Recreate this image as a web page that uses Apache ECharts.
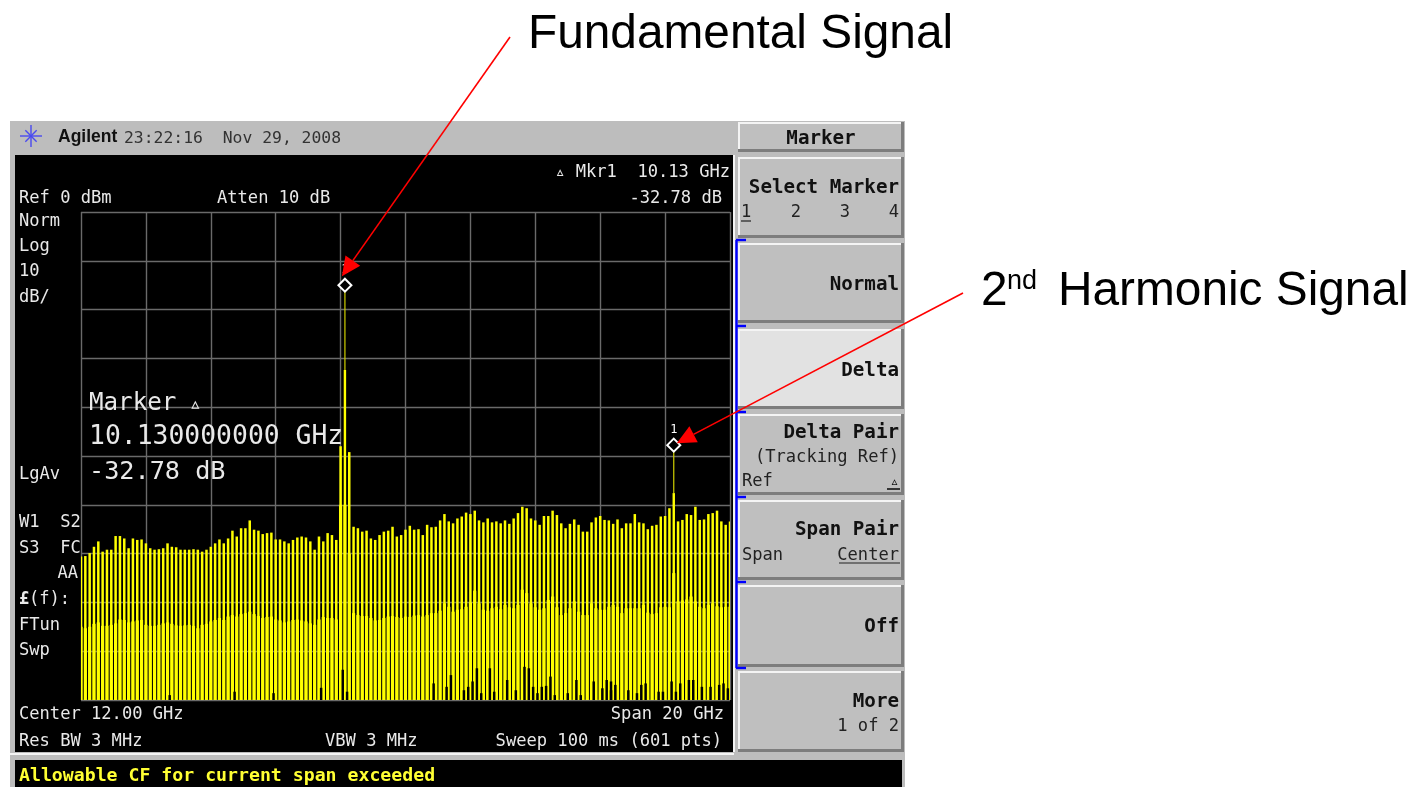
<!DOCTYPE html>
<html><head><meta charset="utf-8">
<style>html,body{margin:0;padding:0;background:#fff}#c{width:1412px;height:787px}</style>
<script src="https://cdn.jsdelivr.net/npm/echarts@6/dist/echarts.min.js"></script>
</head><body><div id="c"></div>
<script>
// Sweep: 601 points, 2 to 22 GHz (Center 12 GHz, Span 20 GHz)
const sweepStart = 2, sweepStop = 22, sweepPoints = 601;
// Upper envelope of the comb, dB, one value per tooth (4 sweep points)
const combTop = [
-70.6,-70.5,-69.9,-68.6,-67.5,-69.6,-69.2,-69.2,-66.4,-66.4,
-66.9,-68.9,-66.9,-67.2,-67.1,-67.9,-68.9,-69.2,-69.1,-68.9,
-67.9,-68.6,-68.7,-69.2,-69.2,-69.2,-69.1,-69.2,-69.6,-69.2,
-68.6,-67.9,-67.1,-67.9,-66.9,-65.3,-66.5,-64.8,-64.8,-63.2,
-65.1,-65.3,-66,-65.8,-65.7,-67.1,-67.1,-67.5,-67.9,-67.2,
-66.7,-66.5,-66.7,-67.5,-69.2,-66.5,-67.5,-65.8,-66.2,-67.2,
-48,-15,-49.2,-64.5,-64.8,-65.5,-65.3,-66.9,-67.2,-66.2,
-65.5,-65.3,-64.5,-66.5,-66.2,-65.1,-64.3,-65.1,-65,-66.2,
-64.1,-64.6,-64.5,-63.2,-61.9,-63.4,-63.8,-62.8,-62.4,-61.6,
-61.9,-61.2,-63.2,-63.6,-62.8,-63.6,-63.4,-63.8,-63.2,-63.9,
-62.8,-61.7,-60.4,-60.7,-62.8,-63.2,-64.1,-62.3,-62.3,-61.2,
-62.1,-63.8,-64.8,-63.9,-63,-64.1,-65.5,-65.5,-63.6,-62.6,
-62.3,-63.1,-63.2,-63.9,-63,-64.8,-63.8,-63.8,-61.9,-63.6,
-63.8,-65,-64.3,-64.1,-62.4,-62.3,-60.7,-47.8,-63.4,-63.1,
-61.9,-62.1,-60.4,-63.1,-63,-61.9,-61.7,-61.2,-63.4,-64.1,-63.4];
// Where the narrow tip of the two signal peaks ends, dB
const combShoulder = {61:-32.4, 137:-57.6};
// Middle envelope of the comb, dB
const combMid = [
-85,-85.3,-85,-84.4,-84.1,-84.8,-84.8,-84.6,-84.3,-83.5,
-83.6,-84.1,-83.9,-83.7,-83.6,-84.6,-84.8,-84.8,-84.6,-84.3,
-84.1,-84.4,-84.7,-84.8,-84.7,-84.6,-84.8,-85.3,-84.6,-84.4,
-83.9,-83.6,-83.2,-83.6,-82.9,-82.6,-82.9,-82.4,-82.2,-81.9,
-82.4,-82.8,-83.2,-83,-82.9,-83.5,-83.7,-84.1,-83.9,-83.6,
-83.5,-83.7,-83.9,-84.3,-84.6,-83.5,-83,-83.2,-83.2,-83.5,
-60,-60,-70,-82.2,-82.6,-82.8,-82.8,-83.2,-83.7,-83.6,
-83.2,-82.9,-82.8,-83,-83.2,-82.9,-83,-82.7,-82.6,-82.9,
-82.6,-82.2,-82.2,-81.7,-80.2,-80.9,-81.9,-81.5,-81.4,-80.9,
-80,-77.6,-80.2,-81.5,-81.7,-81.2,-80.9,-81.4,-80.5,-81,
-81.2,-80.5,-77.4,-78.1,-80.2,-81,-81.5,-81.2,-79.5,-78.8,
-81,-82.6,-82.2,-81.2,-79.8,-81.9,-82.6,-82.6,-80.2,-81.2,
-81.5,-81.5,-80.9,-80.5,-80.9,-82.2,-81.2,-81.2,-81.2,-81.2,
-80.5,-82.1,-82.4,-82.2,-81,-80.9,-81,-74,-79.8,-79.6,
-79.4,-78.8,-79.8,-80.9,-81.2,-80.5,-80.2,-80.8,-81,-80.9,-80.9];
const combFloorDb = -100;
// Frequencies (GHz) and top levels (dB) of the dark gaps at the foot of the comb
const gapFreq = [4.74,6.69,7.89,9.43,10.07,10.19,12.91,13.27,13.37,13.8,13.94,14.09,14.17,14.28,14.55,14.73,15.17,15.38,15.61,15.76,15.89,16,
16.25,16.35,16.46,16.61,16.97,17.2,17.43,17.74,18,18.15,18.27,18.38,18.51,18.87,19.16,19.33,19.38,19.81,19.95,20.15,20.28,20.46,20.67,20.82,21.18,21.41,21.64,21.83,21.9];
const gapLevel = [-99,-98.3,-98.6,-97.5,-93.8,-98.3,-96.6,-97.3,-94.9,-98,-97.3,-96.2,-93.5,-98.6,-93.5,-98.3,-95.9,-98,-93.2,-93.5,-97.3,-98.6,
-97.3,-97.1,-95.2,-99,-98.6,-95.9,-99,-96.2,-97.6,-95.9,-98,-96.2,-96.9,-98,-98.6,-96.9,-96.6,-98.3,-98.3,-96.2,-98.3,-96.6,-95.9,-95.9,-97.3,-97.3,-96.9,-96.6,-97.6];
const markerTooth = [61, 137];
const markerLevel = [-15, -47.78];

const sweepStep = (sweepStop - sweepStart) / (sweepPoints - 1);
const toothFreq = n => sweepStart + sweepStep * n * 4;
const teeth = combTop.map((t, n) => [toothFreq(n), t, combMid[n], combShoulder[n] !== undefined ? combShoulder[n] : t]);
const gaps = gapFreq.map((f, i) => [f, gapLevel[i]]);
const markerPts = markerTooth.map((n, i) => [toothFreq(n), markerLevel[i]]);

const monoF = '"DejaVu Sans Mono", monospace';
const sansF = '"Liberation Sans", Arial, sans-serif';
const scrFg = '#e9e9e9';
const chart = echarts.init(document.getElementById('c'), null, {renderer:'canvas', width:1412, height:787});

function txt(x, y, s, o) {
  o = o || {};
  return {type:'text', z:o.z||20, style:{x:x, y:y+(o.dy===undefined?2:o.dy), text:s, fill:o.c||scrFg,
    font:(o.w||'normal')+' '+(o.s||17.1)+'px '+(o.f||monoF),
    textAlign:o.a||'left', textVerticalAlign:'middle', textBaseline:'middle'}};
}
function rect(x, y, w, h, fill, z) { return {type:'rect', z:z||1, shape:{x:x,y:y,width:w,height:h}, style:{fill:fill}}; }
function line(x1,y1,x2,y2,c,w,z){ return {type:'line', z:z||2, shape:{x1:x1,y1:y1,x2:x2,y2:y2}, style:{stroke:c,lineWidth:w}}; }
function softkey(y1, y2, face) {
  const x1 = 738, x2 = 904;
  return [rect(x1,y1,x2-x1,y2-y1,face||'#bfbfbf',3),
    line(x1,y1+1,x2,y1+1,'#f4f4f4',2,4), line(x1+1,y1,x1+1,y2,'#f4f4f4',2,4),
    line(x1,y2-1.5,x2,y2-1.5,'#7d7d7d',3,4), line(x2-1.5,y1,x2-1.5,y2,'#7d7d7d',3,4)];
}
function arrow(x1,y1,x2,y2) {
  const a = Math.atan2(y2-y1,x2-x1), L = 19, W = 9;
  const bx = x2-L*Math.cos(a), by = y2-L*Math.sin(a);
  return [line(x1,y1,bx,by,'#ff0000',1.6,40),
    {type:'polygon', z:41, shape:{points:[[x2,y2],[bx-W*Math.sin(a),by+W*Math.cos(a)],[bx+W*Math.sin(a),by-W*Math.cos(a)]]}, style:{fill:'#ff0000'}}];
}
function starburst(cx,cy){
  const out=[]; for(let k=0;k<8;k++){const a=k*Math.PI/4; const r=(k%2)?8:11;
    out.push(line(cx,cy,cx+r*Math.cos(a),cy+r*Math.sin(a),'#4a4af0',1.4,6));}
  return out;
}

const chrome = [
  rect(10,121,895,666,'#bdbdbd',1),
  rect(15,155,718,597,'#000000',2),
  line(10,754,734,754,'#f4f4f4',2,3),
  rect(15,760,887,27,'#000000',2),
  line(734,155,734,752,'#f4f4f4',2,3),
  ...starburst(31,136),
  txt(58,137,'Agilent',{c:'#111',w:'bold',s:17.5,f:sansF,z:6,dy:0}),
  txt(124,137,'23:22:16  Nov 29, 2008',{c:'#333',s:16.4,z:6}),
  ...softkey(122,152), ...softkey(157,238), ...softkey(243,323), ...softkey(329,409,'#e2e2e2'),
  ...softkey(414,495), ...softkey(500,580), ...softkey(585,667), ...softkey(671,752),
  line(736.5,240,736.5,668,'#0000ff',2.4,7)
];
[240,326,412,497,582,668].forEach(y=>chrome.push(line(736,y,746,y,'#0000ff',2.4,7)));

const k = {c:'#111',w:'bold',s:19.2,a:'right',z:8};
const n = {c:'#222',s:17.1,a:'right',z:8};
const big = {c:'#000',s:47.8,f:sansF,dy:3};
const labels = [
  txt(730,171,'\u25B5 Mkr1  10.13 GHz',{a:'right'}),
  txt(722,197,'-32.78 dB',{a:'right'}),
  txt(19,197,'Ref 0 dBm'), txt(217,197,'Atten 10 dB'),
  txt(19,220,'Norm'), txt(19,245,'Log'), txt(19,270,'10'), txt(19,296,'dB/'),
  txt(19,473,'LgAv'), txt(19,521,'W1  S2'), txt(19,547,'S3  FC'), txt(78,572,'AA',{a:'right'}),
  txt(19,598,'\u00A3',{w:'bold'}), txt(29,598,'(f):'), txt(19,624,'FTun'), txt(19,649,'Swp'),
  txt(19,713,'Center 12.00 GHz'), txt(724,713,'Span 20 GHz',{a:'right'}),
  txt(19,740,'Res BW 3 MHz'), txt(325,740,'VBW 3 MHz'), txt(722,740,'Sweep 100 ms (601 pts)',{a:'right'}),
  txt(89,402,'Marker',{s:24.2,z:30}), txt(189,403,'\u25B5',{s:21,z:30}),
  txt(89,435,'10.130000000 GHz',{s:26.4,z:30}), txt(89,470,'-32.78 dB',{s:25.2,z:30}),
  txt(821,137,'Marker',{c:'#111',w:'bold',s:19.2,a:'center',z:8}),
  txt(899,186,'Select Marker',k),
  txt(741,211,'1',{c:'#222',z:8}), line(741,221,751,221,'#222',1.2,8), txt(796,211,'2',{c:'#222',a:'center',z:8}), txt(845,211,'3',{c:'#222',a:'center',z:8}), txt(899,211,'4',n),
  txt(899,283,'Normal',k), txt(899,369,'Delta',k), txt(899,431,'Delta Pair',k),
  txt(899,456,'(Tracking Ref)',n), txt(742,480,'Ref',{c:'#222',z:8}), txt(899,480,'\u25B5',{c:'#111',w:'bold',a:'right',s:15,z:8}), line(887,489,900,489,'#111',1.6,8),
  txt(899,528,'Span Pair',k), txt(742,554,'Span',{c:'#222',z:8}), txt(899,554,'Center',n), line(839,563,900,563,'#222',1.2,8),
  txt(899,625,'Off',k), txt(899,700,'More',k), txt(899,725,'1 of 2',n),
  txt(19,775,'Allowable CF for current span exceeded',{c:'#ffff33',w:'bold',s:18.2,z:8,dy:1}),
  txt(528,32,'Fundamental Signal',big),
  txt(981,289,'2',big),
  txt(1007,280,'nd',{c:'#000',s:27,f:sansF,dy:2}),
  txt(1058,289,'Harmonic Signal',big)
];

function renderTooth(params, api) {
  const f = api.value(0), top = api.value(1), mid = api.value(2), shoulder = api.value(3);
  const yellow = {fill:'#ffff00'};
  const bar = (from, to, w, style) => {
    const a = api.coord([f, from]), b = api.coord([f, to]);
    return {type:'rect', shape:{x:a[0]-w/2, y:a[1], width:w, height:b[1]-a[1]}, style:style};
  };
  const children = [];
  if (shoulder !== top) {
    children.push(bar(top, shoulder, 1.2, {fill:'#d0d000'}));
    children.push(bar(shoulder, combFloorDb, 2.4, yellow));
  } else {
    children.push(bar(top, combFloorDb, 2.5, yellow));
  }
  children.push(bar(mid, combFloorDb, 3.2, yellow));
  return {type:'group', children:children};
}

chart.setOption({
  animation:false,
  backgroundColor:'#ffffff',
  grid:{left:81, right:682, top:212, bottom:87, containLabel:false},
  xAxis:{type:'value', z:5, min:sweepStart, max:sweepStop, interval:2, axisLabel:{show:false}, axisTick:{show:false},
    axisLine:{show:false}, splitLine:{show:true, lineStyle:{color:'#6a6a6a', width:1.4}}},
  yAxis:{type:'value', z:5, min:-100, max:0, interval:10, axisLabel:{show:false}, axisTick:{show:false},
    axisLine:{show:false}, splitLine:{show:true, lineStyle:{color:'#6a6a6a', width:1.4}}},
  series:[{
    type:'custom', name:'Trace', data:teeth, silent:true, z:10, clip:true,
    encode:{x:0, y:1}, renderItem:renderTooth
  },{
    type:'custom', name:'Gaps', data:gaps, silent:true, z:11, clip:true,
    encode:{x:0,y:1},
    renderItem:function(params, api){
      // the gaps sit midway between the two nearest comb teeth
      const idx = Math.round(((api.value(0) - sweepStart) / sweepStep - 2) / 4) * 4 + 2;
      const f = sweepStart + sweepStep * idx;
      const top = api.coord([f, api.value(1)]);
      const bot = api.coord([f, combFloorDb]);
      return {type:'rect', shape:{x:top[0]-1.25, y:top[1], width:2.5, height:bot[1]-top[1]}, style:{fill:'#000'}};
    }
  },{
    type:'scatter', name:'Markers', data:markerPts, silent:true, z:12, symbol:'diamond', symbolSize:13,
    itemStyle:{color:'#000', borderColor:'#fff', borderWidth:2, opacity:1},
    label:{show:true, position:'top', distance:2, formatter:'1', color:'#fff', fontSize:12, fontFamily:'DejaVu Sans Mono'}
  }],
  graphic:{elements:chrome.concat(labels)}
});
const tip1 = chart.convertToPixel({gridIndex:0}, markerPts[0]);
const tip2 = chart.convertToPixel({gridIndex:0}, markerPts[1]);
chart.setOption({graphic:{elements:chrome.concat(labels,
  arrow(510,37,tip1[0]-3,tip1[1]-9), arrow(963,293,tip2[0]+3,tip2[1]-2))}});
</script></body></html>
